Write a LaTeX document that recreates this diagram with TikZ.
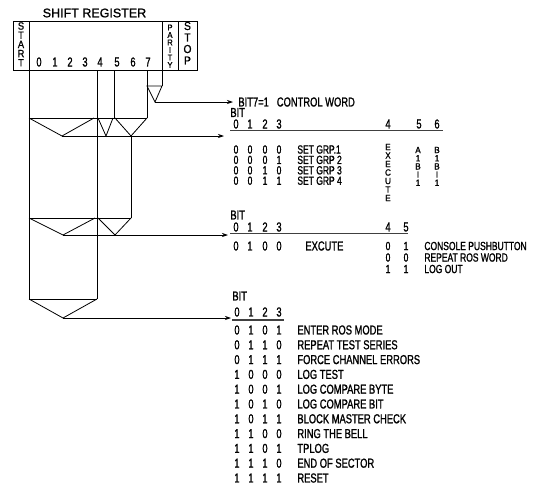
\documentclass[tikz,border=0pt]{standalone}
\usepackage{fontspec}
\setmainfont{Liberation Sans}[FakeStretch=0.72,FakeBold=1.2]
\newfontfamily\titlefont{Liberation Sans}[FakeBold=1.2]
\newfontfamily\vertfont{Liberation Sans}[FakeStretch=0.9,FakeBold=1.0]
\usetikzlibrary{arrows.meta}
\begin{document}
\begin{tikzpicture}[x=1pt,y=-1pt,line width=0.8pt,
  txt/.style={inner sep=0pt,font=\fontsize{13}{14}\selectfont},
  lbl/.style={txt,anchor=west},
  sm/.style={font=\fontsize{11.8}{12}\selectfont},
  vl/.style={inner sep=0pt,font=\vertfont\fontsize{9}{9}\selectfont},
  cell/.style={draw,inner sep=0pt,minimum height=49pt},
  uline/.style={line width=1.2pt,black!75},
  arr/.style={-{Stealth[length=6pt,width=4pt]},line width=0.7pt}]
\useasboundingbox (0,0) rectangle (545,490);
% shift register
\node[inner sep=0pt,font=\titlefont\fontsize{12.5}{14}\selectfont] (title) at (94.5,13) {SHIFT REGISTER};
\node[cell,minimum width=16pt] (start) at (21,45.5) {};
\node[cell,minimum width=133pt] (reg) at (95.5,45.5) {};
\node[cell,minimum width=16pt] (parity) at (170,45.5) {};
\node[cell,minimum width=19pt] (stop) at (187.5,45.5) {};
\foreach \l [count=\i] in {S,T,A,R,T}
  \node[vl,font=\vertfont\fontsize{10.5}{11}\selectfont] (st\i) at (21,{26+9.2*(\i-1)}) {\l};
\foreach \l [count=\i] in {P,A,R,I,T,Y}
  \node[vl,font=\vertfont\fontsize{8.5}{9}\selectfont] (pa\i) at (170,{27.5+7.5*(\i-1)}) {\l};
\foreach \l [count=\i] in {S,T,O,P}
  \node[vl,font=\vertfont\fontsize{11.5}{12}\selectfont] (sp\i) at (187.5,{26+11.5*(\i-1)}) {\l};
\foreach \d/\x in {0/39,1/55,2/70,3/85,4/100,5/117,6/133,7/148}
  \node[txt] (r\d) at (\x,62) {\d};
% bit lines
\draw (29,70) -- (29,299);
\draw (97,70) -- (97,299);
\draw (114,70) -- (114,118);
\draw (147,70) -- (147,118);
\draw (162,70) -- (162,86);
\draw (147,86) -- (162,86) -- (155,102) -- cycle;
% row 1
\draw (29,118) -- (147,118);
\draw (29,118) -- (62,136) -- (94,118);
\draw (98,118) -- (106,136) -- (113,118);
\draw (115,118) -- (131,136) -- (147,118);
\draw (131,136) -- (131,218);
% row 2
\draw (29,218) -- (131,218);
\draw (29,218) -- (63,235) -- (95,218);
\draw (98,218) -- (115,235) -- (131,218);
% row 3
\draw (29,299) -- (97,299);
\draw (29,299) -- (63,318) -- (97,299);
% arrows
\coordinate (a0) at (155,102); \coordinate (b0) at (233,102);
\coordinate (a1) at (62,136);  \coordinate (b1) at (224,136);
\coordinate (a2) at (63,235);  \coordinate (b2) at (228,235);
\coordinate (a3) at (63,318);  \coordinate (b3) at (231,318);
\draw[arr] (a0) -- (b0);
\draw[arr] (a1) -- (b1);
\draw[arr] (a2) -- (b2);
\draw[arr] (a3) -- (b3);
% block 0
\node[lbl] (cw) at (238,102) {BIT7=1\hspace{8pt}CONTROL WORD};
% block 1
\node[lbl] (bit1) at (230,112.5) {BIT};
\foreach \d/\x in {0/236,1/250,2/265,3/279,4/388,5/419,6/437}
  \node[txt] (h1\d) at (\x,124) {\d};
\draw[uline] (230,130.5) -- (443,130.5);
\foreach \a/\b/\c/\e/\t [count=\i] in {0/0/0/0/SET GRP.1,0/0/0/1/SET GRP 2,0/0/1/0/SET GRP 3,0/0/1/1/SET GRP 4}{
  \node[txt,sm] (g\i a) at (236,{149.5+10.4*(\i-1)}) {\a};
  \node[txt,sm] (g\i b) at (250,{149.5+10.4*(\i-1)}) {\b};
  \node[txt,sm] (g\i c) at (265,{149.5+10.4*(\i-1)}) {\c};
  \node[txt,sm] (g\i d) at (279,{149.5+10.4*(\i-1)}) {\e};
  \node[lbl,sm] (g\i t) at (297,{149.5+10.4*(\i-1)}) {\t};
}
\foreach \l [count=\i] in {E,X,E,C,U,T,E}
  \node[vl] (ex\i) at (388,{147+8.5*(\i-1)}) {\l};
\foreach \l [count=\i] in {A,1,B,I,1}
  \node[vl] (ab\i) at (418,{150+8.2*(\i-1)}) {\l};
\foreach \l [count=\i] in {B,1,B,I,1}
  \node[vl] (bb\i) at (437,{150+8.2*(\i-1)}) {\l};
% block 2
\node[lbl] (bit2) at (230,215) {BIT};
\foreach \d/\x in {0/236,1/250,2/265,3/279,4/388,5/406}
  \node[txt] (h2\d) at (\x,227) {\d};
\draw[uline] (230,233.5) -- (408,233.5);
\foreach \d/\x [count=\i] in {0/236,1/250,0/265,0/279}
  \node[txt] (e\i) at (\x,246) {\d};
\node[lbl] (excute) at (305,246) {EXCUTE};
\foreach \p/\q/\t/\y [count=\i] in {0/1/CONSOLE PUSHBUTTON/246,0/0/REPEAT ROS WORD/257.5,1/1/LOG OUT/269}{
  \node[txt,sm] (k\i a) at (388,\y) {\p};
  \node[txt,sm] (k\i b) at (406,\y) {\q};
  \node[lbl,sm] (k\i t) at (424,\y) {\t};
}
% block 3
\node[lbl] (bit3) at (232,296) {BIT};
\foreach \d/\x in {0/237,1/251,2/265,3/279}
  \node[txt] (h3\d) at (\x,312) {\d};
\draw[uline] (232,320) -- (284,320);
\foreach \a/\b/\c/\e/\t [count=\i] in {
  0/1/0/1/ENTER ROS MODE,
  0/1/1/0/REPEAT TEST SERIES,
  0/1/1/1/FORCE CHANNEL ERRORS,
  1/0/0/0/LOG TEST,
  1/0/0/1/LOG COMPARE BYTE,
  1/0/1/0/LOG COMPARE BIT,
  1/0/1/1/BLOCK MASTER CHECK,
  1/1/0/0/RING THE BELL,
  1/1/0/1/TPLOG,
  1/1/1/0/END OF SECTOR,
  1/1/1/1/RESET}{
  \node[txt] (m\i a) at (237,{330+14.8*(\i-1)}) {\a};
  \node[txt] (m\i b) at (251,{330+14.8*(\i-1)}) {\b};
  \node[txt] (m\i c) at (265,{330+14.8*(\i-1)}) {\c};
  \node[txt] (m\i d) at (279,{330+14.8*(\i-1)}) {\e};
  \node[lbl] (m\i t) at (297,{330+14.8*(\i-1)}) {\t};
}
\end{tikzpicture}
\end{document}
